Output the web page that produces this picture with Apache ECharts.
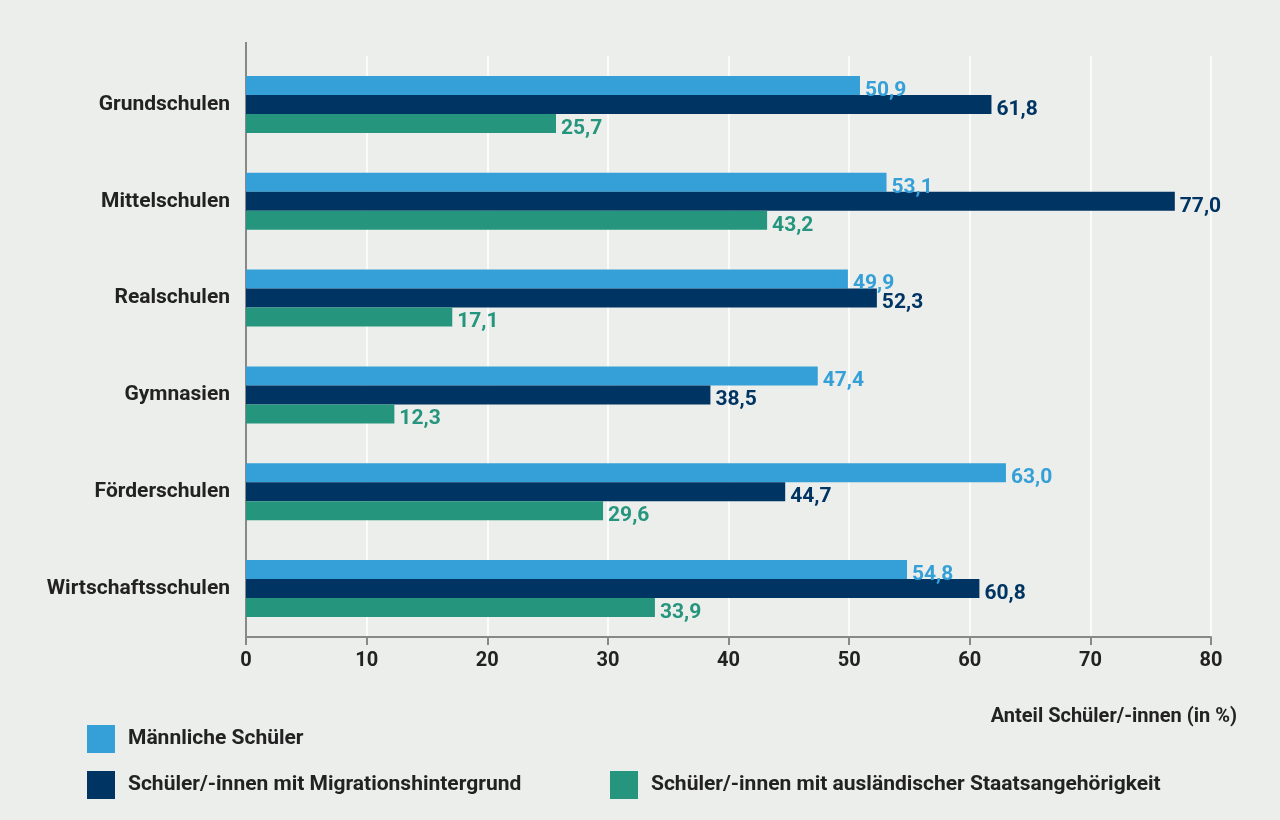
<!DOCTYPE html><html><head><meta charset="utf-8">
<script src="https://cdn.jsdelivr.net/npm/echarts@6/dist/echarts.min.js"></script>
<style>body{margin:0;background:#eceeeb}#c{width:1280px;height:820px}</style></head><body><div id="c"></div>
<script>
const categories=['Grundschulen','Mittelschulen','Realschulen','Gymnasien','Förderschulen','Wirtschaftsschulen'];
const maennlich=[50.9,53.1,49.9,47.4,63.0,54.8];
const migration=[61.8,77.0,52.3,38.5,44.7,60.8];
const auslaendisch=[25.7,43.2,17.1,12.3,29.6,33.9];
const xTicks=[0,10,20,30,40,50,60,70,80];
const names=['Männliche Schüler','Schüler/-innen mit Migrationshintergrund','Schüler/-innen mit ausländischer Staatsangehörigkeit'];
const colors=['#35a0d8','#003463','#25957e'];
const F="Roboto,'Open Sans',sans-serif";
const fmt=v=>v.value.toFixed(1).replace('.',',');
const mk=(i,d)=>({name:names[i],type:'bar',data:d,barWidth:19,barGap:'0%',itemStyle:{color:colors[i]},
 label:{show:true,position:'right',distance:5,offset:[0,5],formatter:fmt,color:colors[i],fontFamily:F,fontWeight:'bold',fontSize:21}});
const lg=(n,l,t)=>({data:[n],left:l,top:t,itemWidth:28,itemHeight:28,icon:'rect',itemGap:0,textStyle:{fontFamily:F,fontWeight:'bold',fontSize:21,color:'#222',padding:[0,0,0,8]}});
const ch=echarts.init(document.getElementById('c'));
ch.setOption({backgroundColor:'#eceeeb',animation:false,
grid:{left:246,right:69,top:56,bottom:183},
xAxis:{type:'value',min:0,max:80,interval:10,
 axisLine:{show:true,lineStyle:{color:'#888',width:2}},axisTick:{show:true,length:8,lineStyle:{color:'#888',width:2}},
 axisLabel:{fontFamily:F,fontWeight:'bold',fontSize:20,color:'#222',margin:14,formatter:v=>xTicks.includes(v)?String(v):''},
 splitLine:{show:true,lineStyle:{color:'#ffffff',width:1.5}}},
yAxis:{type:'category',data:categories,inverse:true,
 axisLine:{show:true,lineStyle:{color:'#888',width:2}},axisTick:{show:false},
 axisLabel:{fontFamily:F,fontWeight:'bold',fontSize:21,color:'#222',margin:16}},
legend:[lg(names[0],82,720),lg(names[1],82,766),lg(names[2],605,766)],
graphic:[{type:'text',right:43,top:707,style:{text:'Anteil Schüler/-innen (in %)',font:"bold 20px "+F,fill:'#222'}},
 {type:'line',shape:{x1:246,y1:42,x2:246,y2:57},style:{stroke:'#888',lineWidth:2}}],
series:[mk(0,maennlich),mk(1,migration),mk(2,auslaendisch)]});
</script></body></html>
